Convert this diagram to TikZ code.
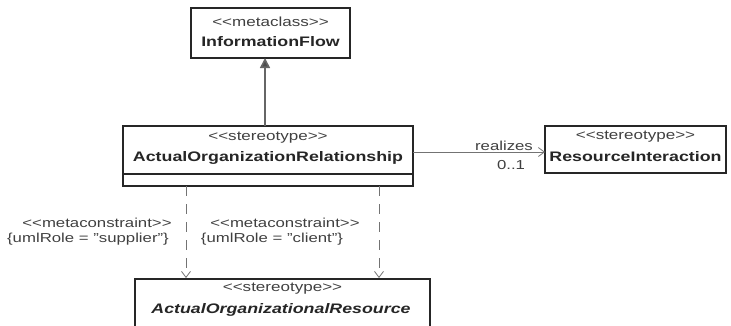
\documentclass[tikz,border=0pt]{standalone}
\usepackage{fontspec}
\setmainfont{Liberation Sans}[FakeStretch=1.29]
\usetikzlibrary{arrows.meta}
\newcommand{\ltlt}{{<}{<}}
\newcommand{\gtgt}{{>}{>}}
\tikzset{
  umlbox/.style={draw=black!85, line width=1.2pt, fill=white},
  stereo/.style={font=\fontsize{13.2}{14}\selectfont, text=black!75, inner sep=0pt},
  cname/.style={font=\fontsize{13.8}{15}\selectfont\bfseries, text=black!85, inner sep=0pt},
  lbl/.style={font=\fontsize{13}{14}\selectfont, text=black!75, inner sep=0pt},
  gen/.style={draw=black!60, line width=1.6pt, -{Triangle[width=10pt,length=10pt,fill=black!70]}},
  dep/.style={draw=black!55, line width=1pt, dash pattern=on 10pt off 8pt, -{Straight Barb[width=9pt,length=6pt,line width=0.8pt]}},
  assoc/.style={draw=black!55, line width=1pt, -{Straight Barb[width=9pt,length=6pt,line width=0.8pt]}}
}
\begin{document}
\begin{tikzpicture}[x=1pt,y=-1pt]
\useasboundingbox (0,0) rectangle (731,325);
\clip (0,0) rectangle (731,325);
% InformationFlow
\draw[umlbox] (191,8) rectangle (350,58);
\node[stereo] (ifs) at (270.5,22) {\ltlt metaclass\gtgt};
\node[cname] (ifn) at (270.5,42) {InformationFlow};
\coordinate (ifb) at (265,58);
% ActualOrganizationRelationship
\draw[umlbox] (123,126) rectangle (413,186);
\draw[draw=black!85, line width=1.2pt] (123,174) -- (413,174);
\node[stereo] (aors) at (268,138) {\ltlt stereotype\gtgt};
\node[cname] (aorn) at (268,158) {ActualOrganizationRelationship};
\coordinate (aort) at (265,126);
\coordinate (aorr) at (413,152);
\coordinate (aorb1) at (186,186);
\coordinate (aorb2) at (379,186);
% ResourceInteraction
\draw[umlbox] (545,126) rectangle (726,173);
\node[stereo] (ris) at (635.5,137) {\ltlt stereotype\gtgt};
\node[cname] (rin) at (635.5,157) {ResourceInteraction};
\coordinate (ril) at (545,152);
% ActualOrganizationalResource
\draw[umlbox] (135,279) rectangle (430,340);
\node[stereo] (ares) at (282.5,289) {\ltlt stereotype\gtgt};
\node[cname, font=\fontsize{13.8}{15}\selectfont\bfseries\itshape] (aren) at (281,310) {ActualOrganizationalResource};
\coordinate (aret1) at (186,278);
\coordinate (aret2) at (379,278);
% connectors
\draw[gen] (aort) -- (ifb);
\draw[assoc] (aorr) -- (ril);
\node[lbl] (rl) at (504,146) {realizes};
\node[lbl] (mult) at (511,165) {0..1};
\draw[dep] (aorb1) -- (aret1);
\draw[dep] (aorb2) -- (aret2);
\node[lbl] (mc1) at (97,223) {\ltlt metaconstraint\gtgt};
\node[lbl] (ur1) at (88,239) {\{umlRole = "supplier"\}};
\node[lbl] (mc2) at (285,223) {\ltlt metaconstraint\gtgt};
\node[lbl] (ur2) at (272,239) {\{umlRole = "client"\}};
\end{tikzpicture}
\end{document}
